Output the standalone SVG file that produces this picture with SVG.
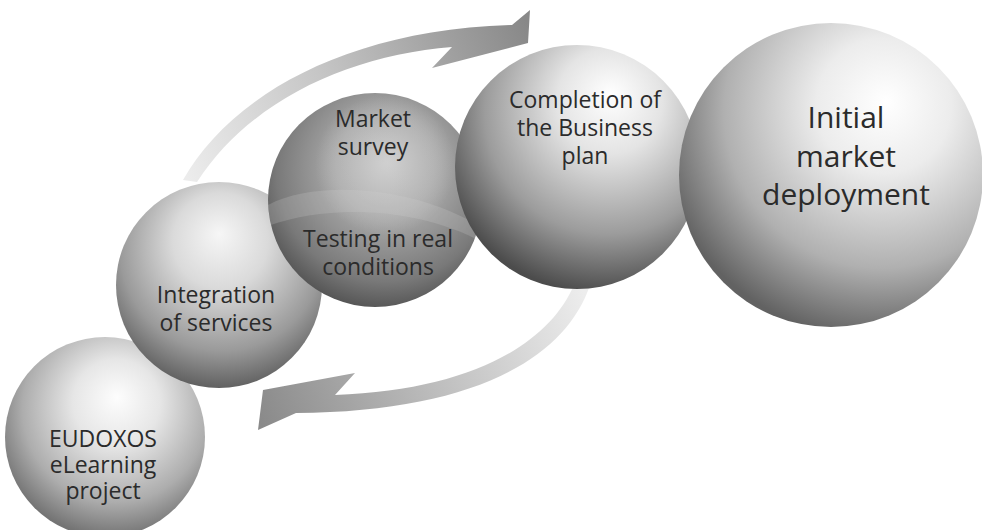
<svg xmlns="http://www.w3.org/2000/svg" width="982" height="530" viewBox="0 0 982 530">
  <defs>
    <radialGradient id="g1" cx="0.55" cy="0.38" r="0.62" fx="0.56" fy="0.3">
      <stop offset="0" stop-color="#fdfdfd"/>
      <stop offset="0.35" stop-color="#e6e6e6"/>
      <stop offset="0.75" stop-color="#adadad"/>
      <stop offset="1" stop-color="#747474"/>
    </radialGradient>
    <radialGradient id="g2" cx="0.52" cy="0.35" r="0.66" fx="0.5" fy="0.25">
      <stop offset="0" stop-color="#f6f6f6"/>
      <stop offset="0.35" stop-color="#dadada"/>
      <stop offset="0.75" stop-color="#9a9a9a"/>
      <stop offset="1" stop-color="#5e5e5e"/>
    </radialGradient>
    <radialGradient id="g3" cx="0.55" cy="0.38" r="0.64" fx="0.56" fy="0.32">
      <stop offset="0" stop-color="#c6c6c6"/>
      <stop offset="0.4" stop-color="#a6a6a6"/>
      <stop offset="0.8" stop-color="#797979"/>
      <stop offset="1" stop-color="#535353"/>
    </radialGradient>
    <radialGradient id="g3hi" cx="0.5" cy="0.5" r="0.5">
      <stop offset="0" stop-color="#dcdcdc" stop-opacity="0.45"/>
      <stop offset="0.7" stop-color="#d0d0d0" stop-opacity="0.25"/>
      <stop offset="1" stop-color="#d0d0d0" stop-opacity="0"/>
    </radialGradient>
    <radialGradient id="g4" cx="0.62" cy="0.3" r="0.72" fx="0.64" fy="0.2">
      <stop offset="0" stop-color="#ffffff"/>
      <stop offset="0.3" stop-color="#e4e4e4"/>
      <stop offset="0.7" stop-color="#9c9c9c"/>
      <stop offset="1" stop-color="#4c4c4c"/>
    </radialGradient>
    <radialGradient id="g5" cx="0.66" cy="0.3" r="0.74" fx="0.68" fy="0.26">
      <stop offset="0" stop-color="#ffffff"/>
      <stop offset="0.3" stop-color="#ececec"/>
      <stop offset="0.7" stop-color="#b0b0b0"/>
      <stop offset="1" stop-color="#626262"/>
    </radialGradient>
    <linearGradient id="arrTop" gradientUnits="userSpaceOnUse" x1="185" y1="170" x2="530" y2="30">
      <stop offset="0" stop-color="#ececec"/>
      <stop offset="0.45" stop-color="#c4c4c4"/>
      <stop offset="1" stop-color="#888888"/>
    </linearGradient>
    <linearGradient id="arrBot" gradientUnits="userSpaceOnUse" x1="585" y1="295" x2="260" y2="420">
      <stop offset="0" stop-color="#ededed"/>
      <stop offset="0.45" stop-color="#c2c2c2"/>
      <stop offset="1" stop-color="#8a8a8a"/>
    </linearGradient>
    <clipPath id="clip3">
      <circle cx="375" cy="200" r="107"/>
    </clipPath>
  </defs>
  <style>
    .lbl { font-family: "Open Sans", "Noto Sans", "Liberation Sans", sans-serif; font-weight: 500; fill: #2b2b2b; text-anchor: middle; }
    .sm { font-size: 23px; }
    .lg { font-size: 30px; }
  </style>

  <!-- cycle arrows, drawn behind the spheres -->
  <g id="connectors">
    <path d="M183,180 C228,100 340,30 512,25 L530,10 L528,43 L432,68 L452,47 C350,55 250,100 197,182 Z" fill="url(#arrTop)"/>
    <path d="M590,285 C565,360 470,412 296,413 L258,430 L263,390 L355,373 L335,395 C470,390 548,345 574,285 Z" fill="url(#arrBot)"/>
  </g>

  <g id="eudoxos">
    <circle cx="105" cy="437" r="100" fill="url(#g1)"/>
    <text class="lbl sm" x="103" y="447">EUDOXOS</text>
    <text class="lbl sm" x="103" y="473">eLearning</text>
    <text class="lbl sm" x="103" y="499">project</text>
  </g>

  <g id="integration">
    <circle cx="219" cy="285" r="103" fill="url(#g2)"/>
    <text class="lbl sm" x="216" y="303">Integration</text>
    <text class="lbl sm" x="216" y="331">of services</text>
  </g>

  <g id="market-testing">
    <circle cx="375" cy="200" r="107" fill="url(#g3)"/>
    <!-- soft reflections on the darker sphere -->
    <g clip-path="url(#clip3)">
      <circle cx="385" cy="165" r="70" fill="url(#g3hi)"/>
      <path d="M268,205 C320,178 420,188 482,228 L482,242 C420,208 330,203 268,226 Z" fill="#d2d2d2" opacity="0.22"/>
    </g>
    <text class="lbl sm" x="373" y="127">Market</text>
    <text class="lbl sm" x="373" y="155">survey</text>
    <text class="lbl sm" x="378" y="247">Testing in real</text>
    <text class="lbl sm" x="378" y="275">conditions</text>
  </g>

  <g id="business-plan">
    <circle cx="577" cy="167" r="122" fill="url(#g4)"/>
    <text class="lbl sm" x="585" y="108">Completion of</text>
    <text class="lbl sm" x="585" y="136">the Business</text>
    <text class="lbl sm" x="585" y="164">plan</text>
  </g>

  <g id="deployment">
    <circle cx="831" cy="175" r="152" fill="url(#g5)"/>
    <text class="lbl lg" x="846" y="128">Initial</text>
    <text class="lbl lg" x="846" y="167">market</text>
    <text class="lbl lg" x="846" y="205">deployment</text>
  </g>
</svg>
